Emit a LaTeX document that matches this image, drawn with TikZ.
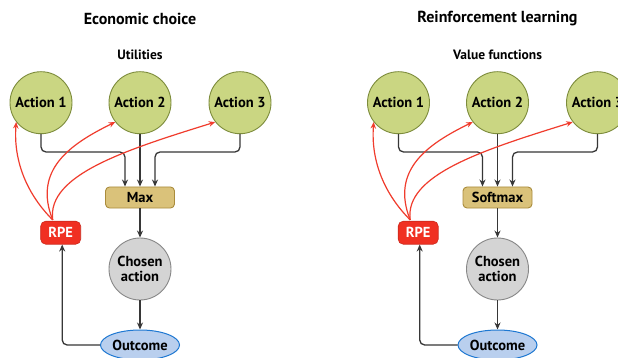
\documentclass[tikz,border=0pt]{standalone}
\usepackage{fontspec}
\setmainfont{PT Sans}
\usetikzlibrary{shapes.geometric,arrows.meta,calc}
\definecolor{actfill}{RGB}{202,214,130}
\definecolor{actdraw}{RGB}{125,140,60}
\definecolor{maxfill}{RGB}{218,194,122}
\definecolor{maxdraw}{RGB}{170,140,60}
\definecolor{rpefill}{RGB}{240,48,34}
\definecolor{chfill}{RGB}{212,212,212}
\definecolor{chdraw}{RGB}{135,135,135}
\definecolor{outfill}{RGB}{185,207,238}
\definecolor{outdraw}{RGB}{30,120,210}
\definecolor{redarr}{RGB}{240,60,45}
\definecolor{linegray}{RGB}{55,55,55}
\tikzset{
  act/.style={circle,minimum size=62pt,inner sep=0pt,fill=actfill,draw=actdraw,line width=0.9pt,font=\bfseries\fontsize{14.5}{15}\selectfont},
  fnbox/.style={rectangle,rounded corners=4pt,minimum width=69pt,minimum height=21pt,inner sep=0pt,fill=maxfill,draw=maxdraw,line width=0.9pt,font=\bfseries\fontsize{14.5}{15}\selectfont},
  rpebox/.style={rectangle,rounded corners=5pt,minimum width=40pt,minimum height=23pt,inner sep=0pt,fill=rpefill,draw=rpefill!85!black,line width=0.6pt,text=white,font=\bfseries\fontsize{14.5}{15}\selectfont},
  chosen/.style={circle,minimum size=62pt,inner sep=0pt,fill=chfill,draw=chdraw,line width=0.9pt,align=center,font=\bfseries\fontsize{14.5}{15.5}\selectfont},
  outc/.style={ellipse,minimum width=79pt,minimum height=30pt,inner sep=0pt,fill=outfill,draw=outdraw,line width=1pt,font=\bfseries\fontsize{14.5}{15}\selectfont},
  ttl/.style={font=\bfseries\fontsize{16}{18}\selectfont},
  sub/.style={font=\bfseries\fontsize{13.5}{15}\selectfont},
  arr/.style={draw=linegray,line width=1.3pt,rounded corners=5pt,-{Stealth[length=7pt,width=6pt]}},
  rarr/.style={draw=redarr,line width=1.2pt,-{Stealth[length=6.5pt,width=5.5pt]}}
}
\begin{document}
\begin{tikzpicture}[x=1pt,y=-1pt]
\useasboundingbox[fill=white] (0,0) rectangle (618,358);
\foreach \p/\dx/\T/\S/\F in {L/0/Economic choice/Utilities/Max, R/357.5/Reinforcement learning/Value functions/Softmax}{
  \begin{scope}[xshift=\dx pt]
  \node[ttl] (\p t) at (140,19) {\T};
  \node[sub] (\p s) at (140,55) {\S};
  \node[act] (\p a1) at (41,102.7) {Action 1};
  \node[act] (\p a2) at (140,102.7) {Action 2};
  \node[act] (\p a3) at (240,102.7) {Action 3};
  \node[fnbox] (\p mx) at (140,197.5) {\F};
  \node[rpebox] (\p rpe) at (60.7,232.7) {RPE};
  \node[chosen] (\p ch) at (140,269) {Chosen\\action};
  \node[outc] (\p out) at (140,345) {Outcome};
  \coordinate (\p j) at (140,152);
  \draw[arr] (\p a1.south) -- (\p a1.south |- \p j) -- ([xshift=-15pt]\p mx.north |- \p j) -- ([xshift=-15pt]\p mx.north);
  \draw[arr] (\p a2.south) -- (\p mx.north);
  \draw[arr] (\p a3.south) -- (\p a3.south |- \p j) -- ([xshift=15pt]\p mx.north |- \p j) -- ([xshift=15pt]\p mx.north);
  \draw[arr] (\p mx.south) -- (\p ch.north);
  \draw[arr] (\p ch.south) -- (\p out.north);
  \draw[arr] (\p out.west) -| ([xshift=1.5pt]\p rpe.south);
  \coordinate (\p rs) at ([xshift=-8pt,yshift=1pt]\p rpe.north);
  \draw[rarr] (\p rs) .. controls +(-25,-25) and +(-3,40) .. (\p a1.218);
  \draw[rarr] (\p rs) .. controls +(-20,-50) and +(-45,22) .. (\p a2.218);
  \draw[rarr] (\p rs) .. controls +(-6,-45) and +(-90,28) .. (\p a3.218);
  \end{scope}
}
\end{tikzpicture}
\end{document}
